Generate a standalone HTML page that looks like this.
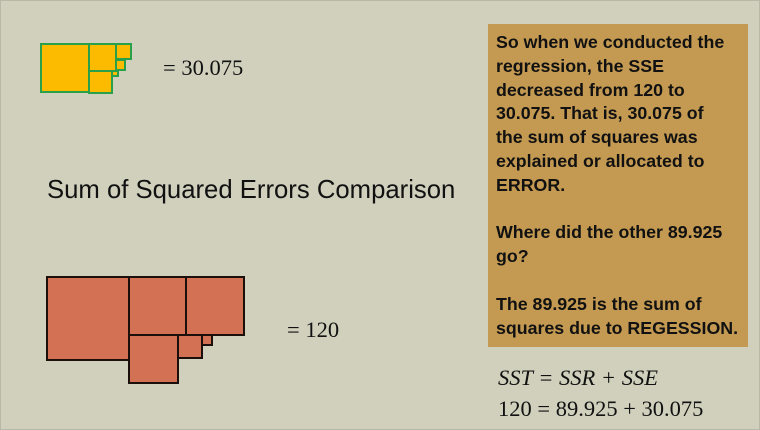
<!DOCTYPE html>
<html><head><meta charset="utf-8"><style>
body{margin:0;width:760px;height:430px;overflow:hidden;background:#d0d0bd;font-family:"Liberation Sans",sans-serif;position:relative}
.frame{position:absolute;left:0;top:0;width:758px;height:428px;border:1px solid #b8b8a8}
.sq{position:absolute;box-sizing:border-box}
.y{background:#fdbb00;border:2px solid #2aa04a}
.r{background:#d27153;border:2px solid #1a0f0a}
.eq{position:absolute;font-family:"Liberation Serif",serif;font-size:22.5px;color:#111;white-space:nowrap}
.box{position:absolute;left:488px;top:24px;width:260px;height:323px;background:#c49a52;box-sizing:border-box;padding:7px 8px;font-weight:bold;font-size:17.8px;line-height:23.8px;color:#111;white-space:nowrap}
.title{position:absolute;left:47px;top:176px;font-size:25.7px;color:#111;white-space:nowrap}
</style></head><body>
<div class="frame"></div>
<div>
<div class="sq y" style="left:40px;top:43px;width:50px;height:50px"></div>
<div class="sq y" style="left:88px;top:43px;width:29px;height:29px"></div>
<div class="sq y" style="left:115px;top:43px;width:17px;height:17px"></div>
<div class="sq y" style="left:115px;top:59px;width:11px;height:12px"></div>
<div class="sq y" style="left:88px;top:70px;width:25px;height:24px"></div>
<div class="sq y" style="left:111px;top:70px;width:8px;height:7px"></div>
</div>
<div class="eq" style="left:163px;top:55px">= 30.075</div>
<div class="title">Sum of Squared Errors Comparison</div>
<div>
<div class="sq r" style="left:46px;top:276px;width:84px;height:85px"></div>
<div class="sq r" style="left:128px;top:276px;width:60px;height:60px"></div>
<div class="sq r" style="left:185px;top:276px;width:60px;height:60px"></div>
<div class="sq r" style="left:128px;top:334px;width:51px;height:50px"></div>
<div class="sq r" style="left:177px;top:334px;width:26px;height:25px"></div>
<div class="sq r" style="left:201px;top:334px;width:12px;height:12px"></div>
</div>
<div class="eq" style="left:287px;top:317px">= 120</div>
<div class="box">So when we conducted the<br>regression, the SSE<br>decreased from 120 to<br>30.075. That is, 30.075 of<br>the sum of squares was<br>explained or allocated to<br>ERROR.<br><br>Where did the other 89.925<br>go?<br><br>The 89.925 is the sum of<br>squares due to REGESSION.</div>
<div class="eq" style="left:498px;top:365px;font-style:italic">SST = SSR + SSE</div>
<div class="eq" style="left:498px;top:396px">120 = 89.925 + 30.075</div>
</body></html>
